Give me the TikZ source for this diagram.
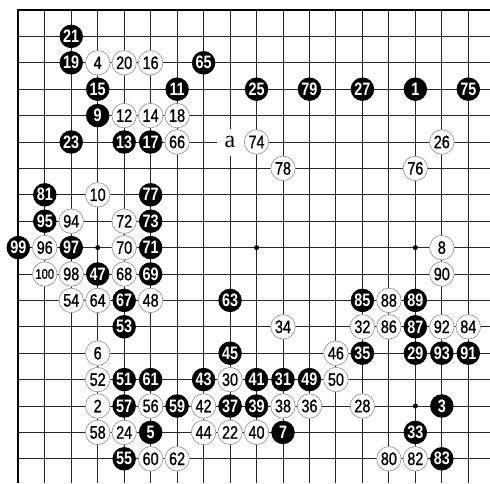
\documentclass[tikz,border=0pt]{standalone}
\usepackage{fontspec}
\newfontfamily\stonefont{Liberation Sans}[FakeStretch=0.8]
\newfontfamily\stonefontw{Liberation Sans}[FakeStretch=0.8,FakeBold=1]
\newfontfamily\labelfont{Liberation Serif}
\begin{document}
\begin{tikzpicture}[x=26.47pt,y=-26.4pt,
  gridline/.style={line width=1pt,black!85},
  borderline/.style={line width=2pt,black},
  star/.style={circle,fill=black,inner sep=0pt,minimum size=5pt},
  bstone/.style={circle,fill=black,inner sep=0pt,minimum size=23.5pt,text=white,font=\stonefont\bfseries\fontsize{18}{18}\selectfont},
  wstone/.style={circle,fill=white,draw=black!40,line width=0.7pt,inner sep=0pt,minimum size=24.5pt,text=black,font=\stonefontw\fontsize{18}{18}\selectfont},
  smallnum/.style={font=\stonefontw\fontsize{14}{14}\selectfont},
  marklabel/.style={fill=white,inner sep=0pt,minimum size=27pt,font=\labelfont\fontsize{24}{24}\selectfont}]
\useasboundingbox[fill=white] (0.3087,0.6212) rectangle (18.82,18.917);
% grid
\foreach \c in {2,...,18} \draw[gridline] (\c,1) -- (\c,18.917);
\foreach \r in {2,...,18} \draw[gridline] (1,\r) -- (18.82,\r);
\draw[borderline] (18.82,1) -- (1,1) -- (1,18.917);
% star points
\foreach \c/\r [count=\i] in {4/4,10/4,16/4,4/10,10/10,16/10,4/16,10/16,16/16} \node[star] (s\i) at (\c,\r) {};
% black stones
\foreach \n/\c/\r in {1/16/4, 3/17/16, 5/6/17, 7/11/17, 9/4/5, 11/7/4, 13/5/6, 15/4/4, 17/6/6, 19/3/3, 21/3/2, 23/3/6, 25/10/4, 27/14/4, 29/16/14, 31/11/15, 33/16/17, 35/14/14, 37/9/16, 39/10/16, 41/10/15, 43/8/15, 45/9/14, 47/4/11, 49/12/15, 51/5/15, 53/5/13, 55/5/18, 57/5/16, 59/7/16, 61/6/15, 63/9/12, 65/8/3, 67/5/12, 69/6/11, 71/6/10, 73/6/9, 75/18/4, 77/6/8, 79/12/4, 81/2/8, 83/17/18, 85/14/12, 87/16/13, 89/16/12, 91/18/14, 93/17/14, 95/2/9, 97/3/10, 99/1/10}
  \node[bstone] (m\n) at (\c,\r) {\n};
% white stones
\foreach \n/\c/\r in {2/4/16, 4/4/3, 6/4/14, 8/17/10, 10/4/8, 12/5/5, 14/6/5, 16/6/3, 18/7/5, 20/5/3, 22/9/17, 24/5/17, 26/17/6, 28/14/16, 30/9/15, 32/14/13, 34/11/13, 36/12/16, 38/11/16, 40/10/17, 42/8/16, 44/8/17, 46/13/14, 48/6/12, 50/13/15, 52/4/15, 54/3/12, 56/6/16, 58/4/17, 60/6/18, 62/7/18, 64/4/12, 66/7/6, 68/5/11, 70/5/10, 72/5/9, 74/10/6, 76/16/7, 78/11/7, 80/15/18, 82/16/18, 84/18/13, 86/15/13, 88/15/12, 90/17/11, 92/17/13, 94/3/9, 96/2/10, 98/3/11}
  \node[wstone] (m\n) at (\c,\r) {\n};
\node[wstone,smallnum] (m100) at (2,11) {100};
% marked point
\node[marklabel] (pa) at (9,6) {a};
\end{tikzpicture}
\end{document}
